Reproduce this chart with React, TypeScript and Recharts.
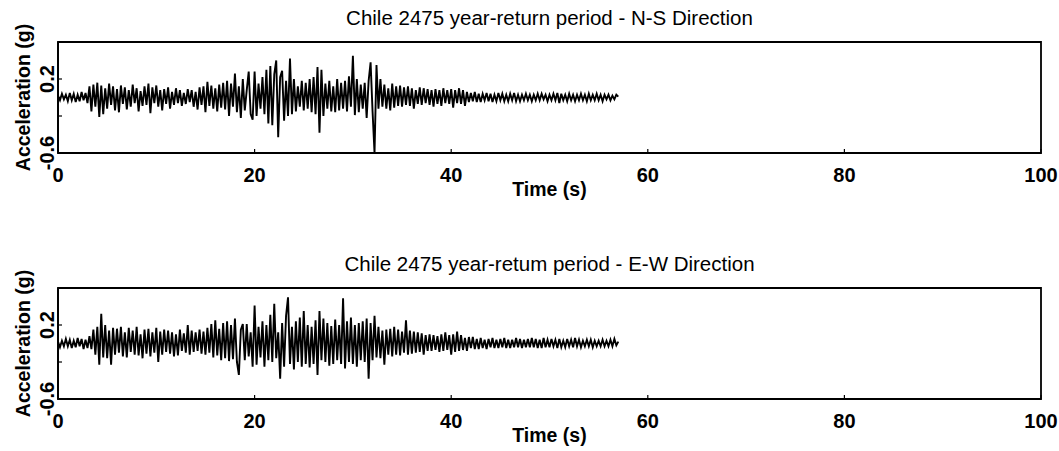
import React from 'react';
import { LineChart, Line, XAxis, YAxis, ReferenceArea } from 'recharts';

const TIME_STEP = 0.2;
const xTicks = [0, 20, 40, 60, 80, 100];
const yTicks = [-0.6, -0.4, -0.2, 0, 0.2, 0.4, 0.6];
const yLabelled = [-0.6, 0.2];
const titleNS = 'Chile 2475 year-return period - N-S Direction';
const titleEW = 'Chile 2475 year-retum period - E-W Direction';

// N-S acceleration (g), sampled every 0.2 s from 0 to 57 s
const nsAccel = [
  0.02, -0.03, 0.04, -0.02, 0.03,
  -0.04, 0.05, -0.03, 0.04, -0.05,
  0.03, -0.04, 0.06, -0.03, 0.05,
  -0.06, 0.12, -0.15, 0.14, -0.10,
  0.16, -0.21, 0.13, -0.18, 0.10,
  -0.12, 0.15, -0.08, 0.12, -0.14,
  0.09, -0.16, 0.13, -0.07, 0.11,
  -0.13, 0.08, -0.10, 0.14, -0.06,
  0.10, -0.15, 0.07, -0.09, 0.12,
  -0.08, 0.15, -0.17, 0.11, -0.06,
  0.13, -0.10, 0.08, -0.14, 0.09,
  -0.07, 0.11, -0.12, 0.06, -0.08,
  0.10, -0.06, 0.08, -0.09, 0.05,
  -0.07, 0.09, -0.05, 0.08, -0.10,
  0.06, -0.13, 0.11, -0.08, 0.12,
  -0.16, 0.17, -0.09, 0.13, -0.12,
  0.10, -0.15, 0.14, -0.11, 0.16,
  -0.13, 0.18, -0.20, 0.15, -0.10,
  0.26, -0.16, 0.12, -0.22, 0.20,
  -0.14, 0.08, 0.28, -0.18, -0.24,
  0.28, -0.20, 0.15, -0.12, 0.22,
  -0.18, 0.30, -0.28, 0.34, -0.30,
  0.25, 0.40, -0.43, 0.22, 0.29,
  -0.25, 0.18, -0.20, 0.42, -0.18,
  0.20, -0.15, 0.12, -0.10, 0.18,
  -0.14, 0.16, -0.12, 0.20, -0.16,
  0.22, -0.18, 0.33, -0.38, 0.30,
  -0.20, 0.15, -0.12, 0.18, -0.15,
  0.12, -0.16, 0.20, -0.14, 0.16,
  -0.12, 0.18, -0.15, 0.23, -0.10,
  0.45, -0.19, 0.20, -0.16, 0.14,
  -0.12, 0.16, -0.22, 0.18, 0.38,
  -0.15, -0.60, 0.35, -0.12, 0.20,
  -0.10, 0.14, -0.12, 0.10, -0.14,
  0.15, -0.11, 0.12, -0.09, 0.13,
  -0.10, 0.11, -0.08, 0.12, -0.09,
  0.10, -0.12, 0.08, -0.07, 0.11,
  -0.08, 0.10, -0.06, 0.09, -0.08,
  0.08, -0.10, 0.09, -0.07, 0.08,
  -0.09, 0.10, -0.06, 0.08, -0.07,
  0.09, -0.11, 0.08, -0.06, 0.10,
  -0.07, 0.08, -0.09, 0.06, -0.05,
  0.05, -0.04, 0.06, -0.05, 0.04,
  -0.05, 0.04, -0.03, 0.05, -0.04,
  0.04, -0.05, 0.03, -0.04, 0.05,
  -0.03, 0.04, -0.04, 0.03, -0.04,
  0.04, -0.03, 0.05, -0.04, 0.03,
  -0.04, 0.03, -0.03, 0.04, -0.03,
  0.03, -0.04, 0.03, -0.03, 0.04,
  -0.03, 0.04, -0.02, 0.03, -0.04,
  0.03, -0.03, 0.04, -0.03, 0.05,
  -0.06, 0.04, -0.03, 0.03, -0.04,
  0.04, -0.03, 0.03, -0.04, 0.03,
  -0.03, 0.04, -0.03, 0.03, -0.04,
  0.04, -0.03, 0.03, -0.03, 0.04,
  -0.03, 0.03, -0.04, 0.03, -0.02,
  0.03, -0.03, 0.02, -0.02, 0.03,
  0.01,
];

// E-W acceleration (g), sampled every 0.2 s from 0 to 57 s
const ewAccel = [
  0.02, -0.04, 0.03, -0.03, 0.05,
  -0.03, 0.04, -0.05, 0.03, -0.04,
  0.06, -0.03, 0.05, -0.06, 0.04,
  -0.05, 0.08, -0.06, 0.15, -0.12,
  0.18, -0.23, 0.32, -0.15, 0.20,
  -0.16, 0.14, -0.23, 0.17, -0.12,
  0.16, -0.10, 0.18, -0.14, 0.12,
  -0.15, 0.17, -0.09, 0.14, -0.12,
  0.18, -0.13, 0.10, -0.16, 0.15,
  -0.11, 0.16, -0.14, 0.12, -0.10,
  0.17, -0.20, 0.13, -0.12, 0.15,
  -0.09, 0.14, -0.11, 0.12, -0.14,
  0.10, -0.13, 0.15, -0.08, 0.11,
  -0.10, 0.20, -0.12, 0.14, -0.09,
  0.12, -0.08, 0.15, -0.11, 0.13,
  -0.12, 0.17, -0.10, 0.21, -0.15,
  0.25, -0.13, 0.16, -0.18, 0.22,
  -0.16, 0.24, -0.19, 0.20, -0.17,
  0.27, -0.20, -0.34, 0.15, 0.21,
  -0.18, 0.21, -0.14, 0.12, -0.25,
  0.41, -0.23, 0.18, -0.15, 0.24,
  -0.25, 0.20, -0.18, 0.31, -0.20,
  0.43, -0.16, 0.12, -0.38, 0.22,
  -0.25, 0.30, 0.50, -0.22, 0.18,
  -0.28, 0.24, -0.20, 0.28, -0.25,
  0.35, -0.22, 0.20, -0.26, 0.18,
  -0.22, 0.25, -0.34, 0.35, -0.18,
  0.27, -0.20, 0.22, -0.24, 0.19,
  -0.22, 0.26, -0.18, 0.20, -0.22,
  0.49, -0.27, 0.24, -0.20, 0.28,
  -0.22, 0.20, -0.25, 0.22, -0.18,
  0.24, -0.20, 0.27, -0.38, 0.22,
  -0.18, 0.30, -0.15, 0.18, -0.16,
  0.14, -0.23, 0.15, -0.12, 0.16,
  -0.14, 0.18, -0.12, 0.15, -0.13,
  0.13, -0.10, 0.25, -0.12, 0.14,
  -0.11, 0.13, -0.10, 0.12, -0.09,
  0.11, -0.12, 0.09, -0.08, 0.10,
  -0.08, 0.09, -0.07, 0.08, -0.09,
  0.10, -0.08, 0.12, -0.07, 0.09,
  -0.12, 0.10, -0.09, 0.13, -0.08,
  0.09, -0.07, 0.06, -0.08, 0.07,
  -0.05, 0.07, -0.06, 0.05, -0.06,
  0.06, -0.05, 0.04, -0.06, 0.05,
  -0.04, 0.06, -0.05, 0.04, -0.05,
  0.05, -0.04, 0.06, -0.05, 0.04,
  -0.05, 0.04, -0.04, 0.06, -0.04,
  0.05, -0.05, 0.04, -0.04, 0.05,
  -0.04, 0.06, -0.04, 0.05, -0.05,
  0.04, -0.05, 0.06, -0.04, 0.04,
  -0.04, 0.05, -0.03, 0.04, -0.05,
  0.05, -0.04, 0.03, -0.04, 0.05,
  -0.03, 0.04, -0.04, 0.06, -0.03,
  0.04, -0.04, 0.03, -0.03, 0.04,
  -0.03, 0.04, -0.04, 0.03, -0.03,
  0.03, -0.03, 0.04, -0.03, 0.03,
  -0.03, 0.04, -0.03, 0.05, -0.02,
  0.02,
];

const FONT = '"Liberation Sans", Arial, sans-serif';

const toRows = (vals: number[]) =>
  vals.map((v, i) => ({ t: Math.round(i * TIME_STEP * 10) / 10, a: v }));

const XTick = (props: any) => {
  const { x, y, payload } = props;
  return (
    <g>
      <line x1={x} x2={x} y1={y} y2={y - 4} stroke="#000" strokeWidth={1.2} />
      <text x={x} y={y + 29} textAnchor="middle" fontFamily={FONT} fontSize={20} fontWeight="bold" fill="#000">
        {payload.value}
      </text>
    </g>
  );
};

const YTick = (props: any) => {
  const { x, y, payload } = props;
  const v = Math.round(payload.value * 10) / 10;
  const show = yLabelled.includes(v);
  const cx = x - 11;
  return (
    <g>
      <line x1={x} x2={x + 4} y1={y} y2={y} stroke="#000" strokeWidth={1.2} />
      {show && (
        <text
          x={cx}
          y={y}
          dy="0.36em"
          transform={`rotate(-90, ${cx}, ${y})`}
          textAnchor="middle"
          fontFamily={FONT}
          fontSize={20}
          fontWeight="bold"
          fill="#000"
        >
          {v.toFixed(1)}
        </text>
      )}
    </g>
  );
};

const Panel = ({ title, values }: { title: string; values: number[] }) => {
  const data = toRows(values);
  return (
    <LineChart width={1059} height={246} data={data} margin={{ top: 42, right: 18, bottom: 0, left: 0 }}>
      <XAxis
        dataKey="t"
        type="number"
        domain={[0, 100]}
        ticks={xTicks}
        allowDataOverflow
        height={93}
        tickSize={0}
        tickMargin={0}
        tick={<XTick />}
        axisLine={{ stroke: '#000', strokeWidth: 1.8 }}
        label={{
          content: (p: any) => {
            const vb = p.viewBox;
            return (
              <text x={vb.x + vb.width / 2} y={vb.y + 43} textAnchor="middle" fontFamily={FONT} fontSize={19.5} fontWeight="bold" fill="#000">
                Time (s)
              </text>
            );
          },
        }}
      />
      <YAxis
        type="number"
        domain={[-0.6, 0.6]}
        ticks={yTicks}
        allowDataOverflow
        width={58}
        tickSize={0}
        tickMargin={0}
        tick={<YTick />}
        axisLine={{ stroke: '#000', strokeWidth: 1.8 }}
        label={{
          content: (p: any) => {
            const vb = p.viewBox;
            const cx = vb.x + 23;
            const cy = vb.y + vb.height / 2;
            return (
              <text
                x={cx}
                y={cy}
                dy="0.36em"
                transform={`rotate(-90, ${cx}, ${cy})`}
                textAnchor="middle"
                fontFamily={FONT}
                fontSize={19.5}
                fontWeight="bold"
                fill="#000"
              >
                Acceleration (g)
              </text>
            );
          },
        }}
      />
      <ReferenceArea
        x1={0}
        x2={100}
        y1={-0.6}
        y2={0.6}
        fill="none"
        fillOpacity={0}
        stroke="#000"
        strokeWidth={1.8}
        strokeOpacity={1}
        ifOverflow="visible"
        label={{
          content: (p: any) => {
            const vb = p.viewBox;
            return (
              <text x={vb.x + vb.width / 2} y={vb.y - 17} textAnchor="middle" fontFamily={FONT} fontSize={20.5} fill="#000">
                {title}
              </text>
            );
          },
        }}
      />
      <Line
        type="linear"
        dataKey="a"
        stroke="#000"
        strokeWidth={1.9}
        strokeLinejoin="miter"
        dot={false}
        activeDot={false}
        isAnimationActive={false}
      />
    </LineChart>
  );
};

export default function App() {
  return (
    <div style={{ position: 'absolute', left: 0, top: 0, width: 1059, height: 451, background: '#fff', overflow: 'hidden' }}>
      <div style={{ position: 'absolute', left: 0, top: 0 }}>
        <Panel title={titleNS} values={nsAccel} />
      </div>
      <div style={{ position: 'absolute', left: 0, top: 246 }}>
        <Panel title={titleEW} values={ewAccel} />
      </div>
    </div>
  );
}
